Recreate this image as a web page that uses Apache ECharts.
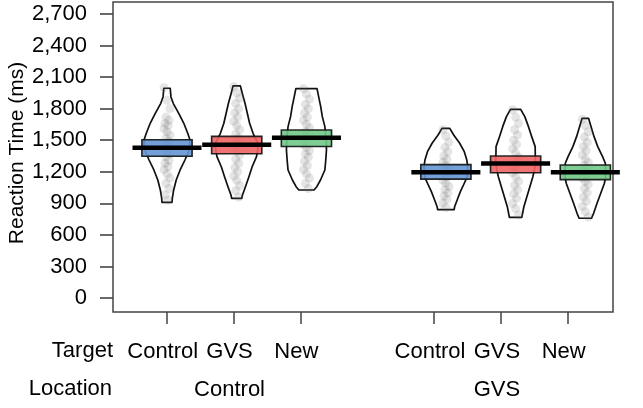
<!DOCTYPE html>
<html>
<head>
<meta charset="utf-8">
<script src="https://cdn.jsdelivr.net/npm/echarts@6/dist/echarts.min.js"></script>
<style>
html,body{margin:0;padding:0;background:#fff;}
#chart{width:643px;height:408px;}
</style>
</head>
<body>
<div id="chart"></div>
<script>
// ---- data ----
const targetLabels = ["Control", "GVS", "New", "", "Control", "GVS", "New"];
const locationLabels = ["", "Control", "", "", "", "GVS", ""];
const yTickValues = [0, 300, 600, 900, 1200, 1500, 1800, 2100, 2400, 2700];
const beanPositions = [1, 2, 3, 5, 6, 7];
const beanColors = ["#6496d2", "#f06464", "#70c988", "#6496d2", "#f06464", "#70c988"];
const means = [1429, 1458, 1524, 1195, 1278, 1195];
const hdiLow = [1348, 1372, 1440, 1130, 1191, 1125];
const hdiHigh = [1505, 1537, 1597, 1268, 1350, 1265];

// bean outlines: [reaction time, relative half width]
const bean1 = [[910,0.22],[948,0.23],[1027,0.29],[1122,0.40],[1217,0.57],[1312,0.78],[1400,0.95],[1450,1.0],[1509,0.99],[1566,0.90],[1661,0.73],[1756,0.51],[1851,0.27],[1914,0.17],[1994,0.14]];
const bean2 = [[948,0.22],[979,0.25],[1058,0.38],[1153,0.53],[1248,0.67],[1344,0.86],[1420,0.92],[1480,0.90],[1566,0.71],[1661,0.56],[1756,0.46],[1851,0.36],[1946,0.24],[2016,0.16]];
const bean3 = [[1027,0.33],[1058,0.45],[1122,0.61],[1217,0.80],[1312,0.84],[1407,0.87],[1500,0.86],[1629,0.80],[1724,0.69],[1819,0.62],[1914,0.53],[1990,0.46]];
const bean4 = [[840,0.36],[868,0.38],[932,0.49],[1011,0.63],[1091,0.80],[1150,0.92],[1250,0.95],[1312,0.91],[1391,0.80],[1471,0.60],[1550,0.34],[1613,0.17]];
const bean5 = [[767,0.27],[789,0.29],[868,0.36],[963,0.49],[1058,0.62],[1153,0.75],[1220,0.82],[1300,0.86],[1439,0.85],[1534,0.70],[1629,0.56],[1724,0.40],[1794,0.22]];
const bean6 = [[758,0.27],[805,0.36],[901,0.51],[996,0.67],[1091,0.83],[1150,0.88],[1281,0.87],[1344,0.75],[1439,0.54],[1534,0.38],[1629,0.25],[1708,0.14]];

// raw observations
const points1 = [2000,1880,1800,1720,1690,1660,1640,1610,1580,1550,1520,1490,1460,1440,1420,1400,1370,1340,1310,1280,1250,1220,1180,1140,1090,1040,980,930];
const points2 = [2010,1950,1900,1850,1800,1760,1720,1680,1640,1600,1560,1520,1490,1460,1430,1400,1360,1320,1280,1240,1200,1160,1120,1070,1020,960];
const points3 = [1990,1940,1890,1840,1800,1760,1720,1690,1650,1620,1580,1550,1520,1490,1460,1430,1400,1370,1340,1300,1260,1220,1180,1140,1090,1040];
const points4 = [1600,1540,1480,1430,1390,1350,1320,1290,1260,1230,1210,1190,1170,1150,1120,1090,1060,1030,1000,970,940,900,860];
const points5 = [1790,1720,1660,1600,1550,1500,1460,1420,1380,1340,1310,1280,1250,1220,1190,1150,1110,1070,1030,990,950,900,850,790];
const points6 = [1700,1640,1580,1530,1480,1440,1400,1360,1320,1290,1260,1230,1200,1170,1140,1110,1080,1040,1000,960,920,870,820,770];

// ---- build ----
const beans = [bean1, bean2, bean3, bean4, bean5, bean6];
const pointSets = [points1, points2, points3, points4, points5, points6];
const BEAN_HW = 0.33;
const BAND_HW = 0.36;
const MEAN_HW = 0.495;
const X_MIN = 0.2254, X_MAX = 7.397;
const TICK_LEN = 13;
const AXIS_GREY = '#444';
const FONT = "'Liberation Sans', Arial, sans-serif";
const FS = 22;

const beanData = beanPositions.map((p, i) => [p, means[i], i]);
const scatterData = [];
pointSets.forEach((set, g) => {
  set.forEach((v, k) => {
    const jitter = (((k * 3) % 7) - 3) * 0.014;
    scatterData.push([beanPositions[g] + jitter, v]);
  });
});

const chart = echarts.init(document.getElementById('chart'), null, {renderer: 'canvas'});
const fmt = v => String(v).replace(/\B(?=(\d{3})+(?!\d))/g, ',');

chart.setOption({
  animation: false,
  backgroundColor: '#fff',
  grid: [
    // plot box
    {left: 113, right: 30, top: 2, bottom: 96, show: true, borderColor: AXIS_GREY, borderWidth: 1.5, backgroundColor: 'transparent', containLabel: false, outerBoundsMode: 'none'},
    // category ticks / labels
    {left: 133.3, right: 41.9, top: 2, bottom: 96, containLabel: false, outerBoundsMode: 'none'},
    // narrow strip left of the box that carries the y ticks (as split lines) and labels
    {left: 100, width: 13, top: 14, bottom: 110, containLabel: false, outerBoundsMode: 'none'}
  ],
  xAxis: [
    {gridIndex: 0, type: 'value', min: X_MIN, max: X_MAX, show: false},
    {gridIndex: 1, type: 'category', data: targetLabels, boundaryGap: true, position: 'bottom',
      axisLine: {show: false},
      axisTick: {show: true, alignWithLabel: true, length: 12, interval: (i) => targetLabels[i] !== '',
        lineStyle: {color: AXIS_GREY, width: 1.5}},
      axisLabel: {interval: 0, margin: 29, color: '#000', fontFamily: FONT, fontSize: FS, padding: [0, 8, 0, 0]},
      splitLine: {show: false}},
    {gridIndex: 1, type: 'category', data: locationLabels, boundaryGap: true, position: 'bottom',
      axisLine: {show: false}, axisTick: {show: false},
      axisLabel: {interval: 0, margin: 67, color: '#000', fontFamily: FONT, fontSize: FS, padding: [0, 8, 0, 0]},
      splitLine: {show: false}},
    {gridIndex: 2, type: 'value', min: 0, max: 1, show: false}
  ],
  yAxis: [
    {gridIndex: 0, type: 'value', min: -133, max: 2814, show: false},
    {gridIndex: 1, type: 'value', show: false},
    {gridIndex: 2, type: 'value', min: 0, max: 2700, interval: 300, position: 'left', zlevel: 1, z: 10,
      name: 'Reaction Time (ms)', nameLocation: 'middle', nameGap: 72, nameRotate: 90,
      nameTextStyle: {color: '#000', fontFamily: FONT, fontSize: 21, padding: [0, 0, 0, 6]},
      axisLine: {show: false},
      axisTick: {show: false},
      splitLine: {show: true, lineStyle: {color: AXIS_GREY, width: 1.6, type: 'solid'}},
      axisLabel: {show: true, margin: 13, color: '#000', fontFamily: FONT, fontSize: FS, formatter: fmt}}
  ],
  graphic: [
    {type: 'text', right: 643 - 113, top: 340, style: {text: 'Target', font: FS + 'px ' + FONT, fill: '#000'}},
    {type: 'text', right: 643 - 112, top: 378, style: {text: 'Location', font: FS + 'px ' + FONT, fill: '#000'}}
  ],
  series: [
    {
      type: 'custom', xAxisIndex: 0, yAxisIndex: 0, z: 1, silent: true,
      data: beanData,
      renderItem: function (params, api) {
        const idx = api.value(2);
        const pos = api.value(0);
        const prof = beans[idx];
        const pts = [];
        prof.forEach(([v, w]) => pts.push(api.coord([pos + w * BEAN_HW, v])));
        for (let k = prof.length - 1; k >= 0; k--) {
          const [v, w] = prof[k];
          pts.push(api.coord([pos - w * BEAN_HW, v]));
        }
        return {type: 'polygon', shape: {points: pts},
          style: {fill: 'rgba(255,255,255,0)', stroke: '#111', lineWidth: 1.7, lineJoin: 'round'}};
      }
    },
    {
      type: 'scatter', xAxisIndex: 0, yAxisIndex: 0, z: 2, silent: true,
      data: scatterData, symbolSize: 9,
      itemStyle: {color: 'rgba(110,110,110,0.22)', borderWidth: 0}
    },
    {
      type: 'custom', xAxisIndex: 0, yAxisIndex: 0, z: 3, silent: true,
      data: beanData,
      renderItem: function (params, api) {
        const idx = api.value(2);
        const pos = api.value(0);
        const tl = api.coord([pos - BAND_HW, hdiHigh[idx]]);
        const br = api.coord([pos + BAND_HW, hdiLow[idx]]);
        const ml = api.coord([pos - MEAN_HW, means[idx]]);
        const mr = api.coord([pos + MEAN_HW, means[idx]]);
        return {type: 'group', children: [
          {type: 'rect', shape: {x: tl[0], y: tl[1], width: br[0] - tl[0], height: br[1] - tl[1]},
            style: {fill: beanColors[idx], opacity: 0.9, stroke: '#111', lineWidth: 1.6}},
          {type: 'line', shape: {x1: ml[0], y1: ml[1], x2: mr[0], y2: mr[1]},
            style: {stroke: '#000', lineWidth: 4.5}}
        ]};
      }
    }
  ]
});
</script>
</body>
</html>
